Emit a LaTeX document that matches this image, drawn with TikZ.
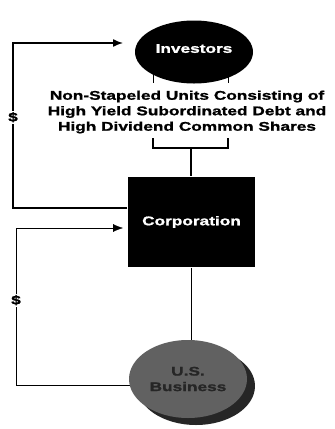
\documentclass[tikz,border=0pt]{standalone}
\usepackage{fontspec}
\setmainfont{Liberation Sans}[FakeStretch=1.37, BoldFeatures={FakeBold=1.2}]
\usetikzlibrary{shapes.geometric,arrows.meta,shadows,backgrounds}
\begin{document}
\begin{tikzpicture}[x=1pt, y=-1pt, line width=1.4pt,
  every node/.style={font=\bfseries\fontsize{12.6}{15.5}\selectfont},
  flow/.style={-{Latex[length=10pt,width=8pt]}},
  dollar/.style={fill=white, inner sep=1.5pt}]
\useasboundingbox (0,0) rectangle (335,429);
\node[ellipse, fill=black, text=white, minimum width=118, minimum height=63] (inv) at (194,52){\raisebox{7pt}{Investors}};
\node[align=center] (units) at (187,112){Non-Stapeled Units Consisting of\\High Yield Subordinated Debt and\\High Dividend Common Shares};
\node[rectangle, fill=black, text=white, minimum width=127, minimum height=90] (corp) at (191.5,222){Corporation};
\node[ellipse, fill=black!62, text=black!85, align=center, minimum width=105, minimum height=78,
  drop shadow={shadow xshift=8pt, shadow yshift=-7pt, fill=black!85, opacity=1}] (bus) at (188,379){U.S.\\Business};
\coordinate (bl) at (153,83);
\coordinate (br) at (228,83);
\coordinate (kl) at (153,138);
\coordinate (kr) at (228,138);
\coordinate (kb) at (191,148);
\coordinate (l1) at (13,208);
\coordinate (l2) at (13,43);
\coordinate (a1) at (123,43);
\coordinate (l3) at (16,385);
\coordinate (l4) at (16,228);
\coordinate (a2) at (123,228);
\begin{scope}[on background layer]
\draw (inv.center -| bl) -- (bl);
\draw (inv.center -| br) -- (br);
\draw (corp.south -| kb) -- (kb |- bus.center);
\draw[flow] (bus.center |- l3) -- (l3) -- node[dollar, pos=0.54]{\$} (l4) -- (a2);
\end{scope}
\draw (kl) -- (kl |- kb) -- (kr |- kb) -- (kr);
\draw (kb) -- (kb |- corp.north);
\draw[flow] (corp.west |- l1) -- (l1) -- node[dollar, pos=0.55]{\$} (l2) -- (a1);
\end{tikzpicture}
\end{document}
